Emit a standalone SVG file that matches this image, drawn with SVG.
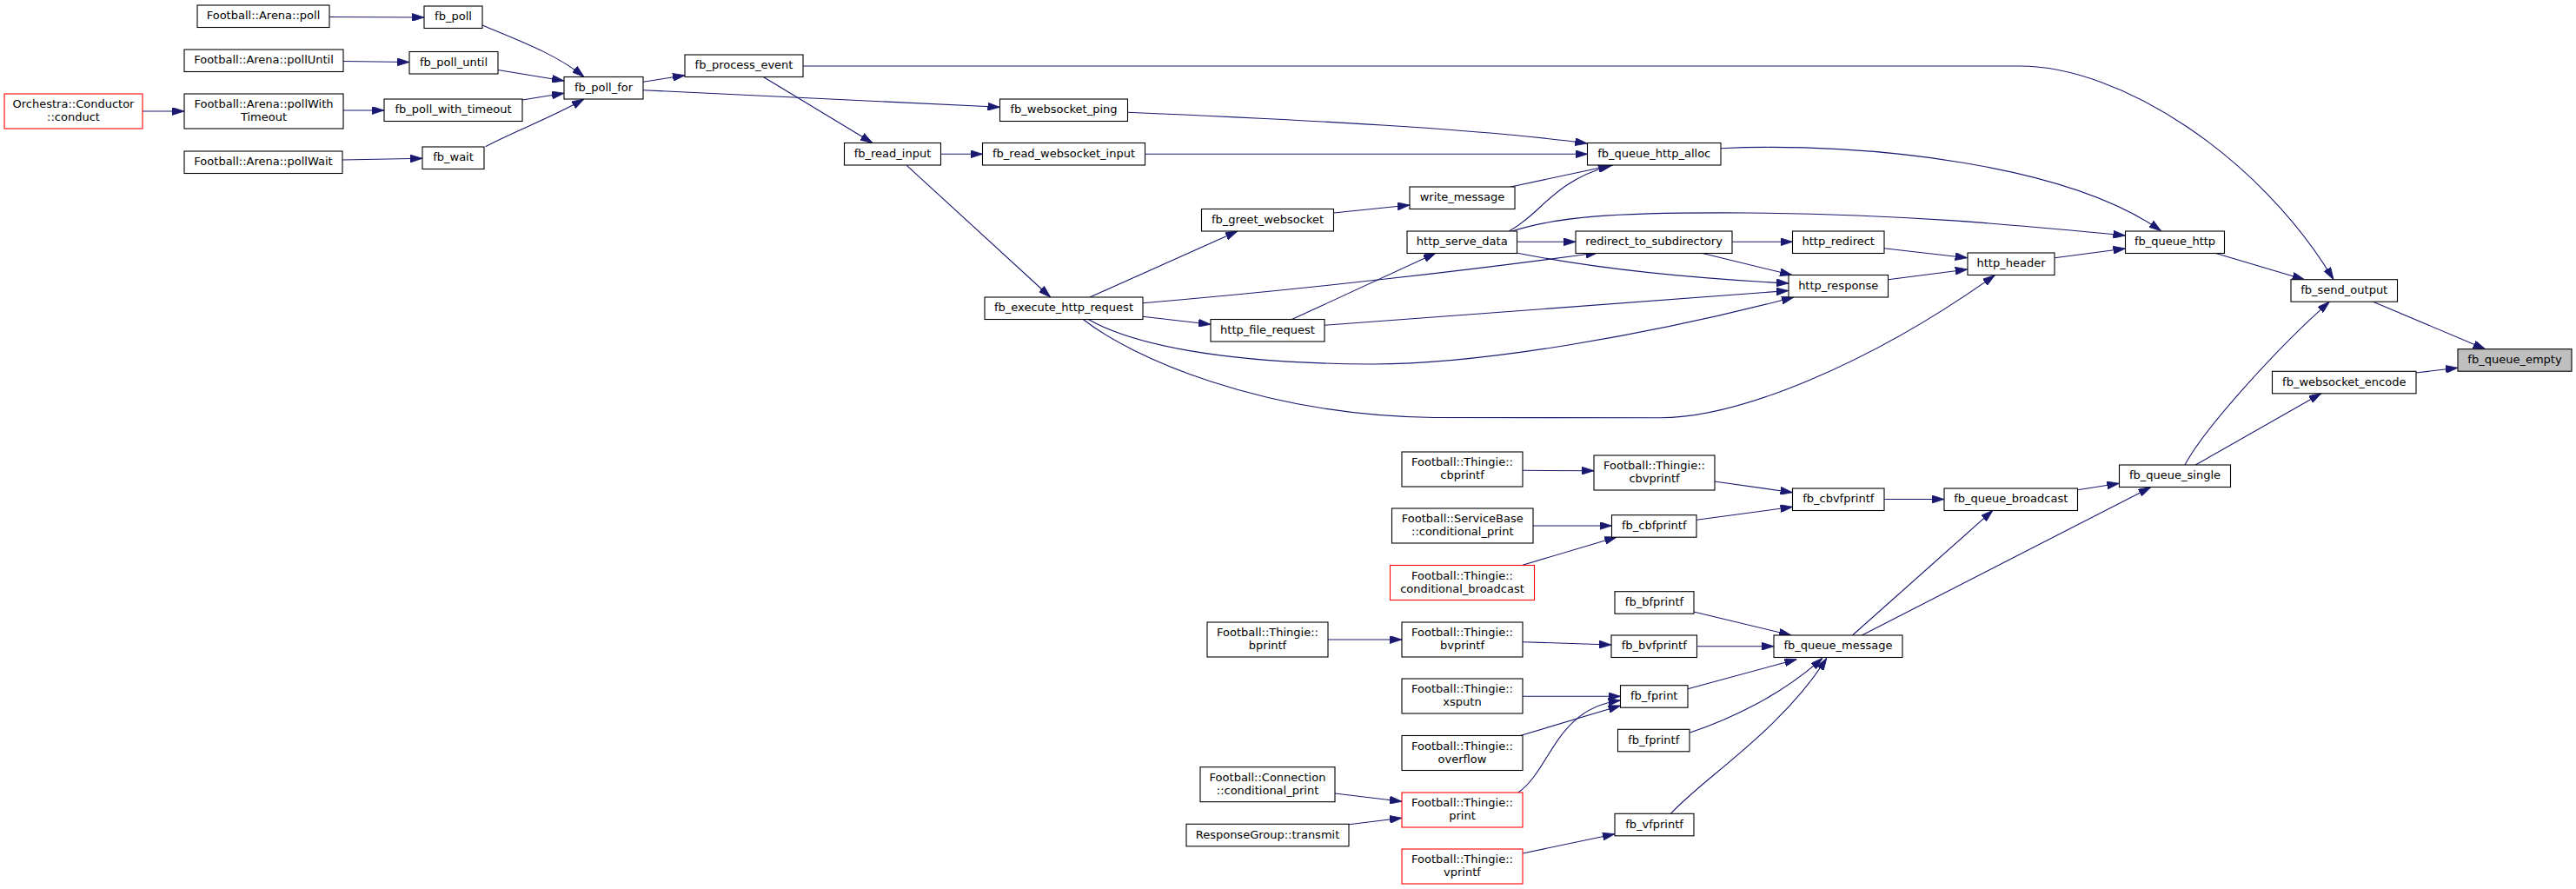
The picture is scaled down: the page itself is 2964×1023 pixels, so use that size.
<svg xmlns="http://www.w3.org/2000/svg" width="2964" height="1023" viewBox="0 0 2964 1023">
<style>
.node rect{fill:#ffffff;stroke:#000000;stroke-width:1.1}
.node.red rect{stroke:#ff0000}
.node.root rect{fill:#bfbfbf}
.node text{font-family:"DejaVu Sans",sans-serif;font-size:13px;fill:#000000;text-anchor:middle}
.edges path{fill:none;stroke:#191970;stroke-width:1.1;marker-end:url(#ah)}
</style>
<defs>
<marker id="ah" viewBox="0 0 14 9" refX="14" refY="4.5" markerWidth="14" markerHeight="9" markerUnits="userSpaceOnUse" orient="auto">
<path d="M0,0 L14,4.5 L0,9 z" fill="#191970" stroke="#191970" stroke-width="0.8"/>
</marker>
</defs>
<rect width="2964" height="1023" fill="#ffffff"/>
<g class="edges">
<path d="M379,19.5 L488,20"/>
<path d="M555,29 C595,46 640,62 672,88.5"/>
<path d="M395,70.5 L471,71.5"/>
<path d="M573,80.5 L649,93"/>
<path d="M164,128 L212,128"/>
<path d="M395,127 L442,127"/>
<path d="M601,115 L649,107.3"/>
<path d="M394,184 L486,182.3"/>
<path d="M558.6,168.7 C590,152 635,135 672,114"/>
<path d="M740,94.3 L788,86.7"/>
<path d="M740,103.7 L1150.5,123.3"/>
<path d="M924,76 L2324,76 C2440,76 2600,180 2685,321.7"/>
<path d="M878.7,88.7 L1004,164.5"/>
<path d="M1082.5,177.3 L1130.5,177.3"/>
<path d="M1043.3,190.3 L1208.7,342"/>
<path d="M1297.7,129.3 C1500,138 1700,148 1826.3,165"/>
<path d="M1317.5,177.3 L1826.5,177.3"/>
<path d="M1534.5,245 L1622,236"/>
<path d="M1738.3,215 L1855.5,190"/>
<path d="M1736.8,265.7 C1775,245 1785,210 1853,190.5"/>
<path d="M1740,266 C1790,250 1850,244 2010,245 C2200,246 2350,262 2445.5,271"/>
<path d="M1745.5,278.3 L1813,278.3"/>
<path d="M1745,291 C1800,302 1900,318 2058,326"/>
<path d="M1993.2,278.3 L2062.5,278.3"/>
<path d="M1958,291.3 L2062,316.5"/>
<path d="M1315,348.7 C1500,333 1700,310 1838.7,290.7"/>
<path d="M1254,342 L1424,266"/>
<path d="M1315,364.3 L1393,373.3"/>
<path d="M1487,367.3 L1652,291.3"/>
<path d="M1524,374.3 L2057.8,334.5"/>
<path d="M1251.8,367.3 C1300,395 1400,418 1575,419 C1700,420 1900,385 2064,342"/>
<path d="M1246,367.3 C1300,410 1450,478 1650,480.5 L1910,480.7 C2000,480.7 2150,420 2295.3,316.7"/>
<path d="M2167.8,285.7 L2263.7,296.7"/>
<path d="M2172.6,321.7 L2263.7,310"/>
<path d="M2364.2,296.7 L2445.5,286"/>
<path d="M1979.8,170.7 C2150,163 2380,190 2486.6,265.7"/>
<path d="M2548.8,291.3 L2651.6,321.7"/>
<path d="M2730.6,347.3 L2859.7,401.7"/>
<path d="M2779.8,429 L2828,423.3"/>
<path d="M2514,535 C2535,495 2620,400 2680.4,347.3"/>
<path d="M2526.3,535 L2670.8,452.7"/>
<path d="M2390.5,563.7 L2438.3,556.3"/>
<path d="M2167.8,574.5 L2237,574.5"/>
<path d="M2131.5,731 L2293,587.3"/>
<path d="M2142.4,731 L2474.7,560.7"/>
<path d="M1752.2,541.3 L1834,541.7"/>
<path d="M1972.7,554 L2062.6,566.7"/>
<path d="M1952.1,598.3 L2062.6,583.3"/>
<path d="M1764.1,605 L1854.5,605"/>
<path d="M1751.2,650.5 L1860.3,618"/>
<path d="M1528,736 L1613,736"/>
<path d="M1752.2,738.7 L1854,742"/>
<path d="M1952.6,743.7 L2041,743.7"/>
<path d="M1948.7,704 L2061,731"/>
<path d="M1942,792.7 L2067.4,758.7"/>
<path d="M1944.5,843 C1990,828 2050,800 2097,757.3"/>
<path d="M1922.4,936.3 C1960,895 2050,840 2101.8,757.3"/>
<path d="M1752.2,801.3 L1864.6,801.3"/>
<path d="M1749.3,846.5 L1864.6,812"/>
<path d="M1746.9,912 C1785,885 1790,815 1864.6,806"/>
<path d="M1536,913 L1613,922.3"/>
<path d="M1552,948.7 L1613,941.3"/>
<path d="M1752.2,982 L1858,959.7"/>
</g>
<g id="n_arena_poll" class="node"><rect x="227" y="6" width="152" height="25.5"/><text x="303" y="22.25">Football::Arena::poll</text></g>
<g id="n_fb_poll" class="node"><rect x="488" y="7" width="67" height="25.5"/><text x="521.5" y="23.25">fb_poll</text></g>
<g id="n_arena_pollUntil" class="node"><rect x="212" y="57" width="183" height="25.5"/><text x="303.5" y="73.25">Football::Arena::pollUntil</text></g>
<g id="n_fb_poll_until" class="node"><rect x="471" y="59.5" width="102" height="25.5"/><text x="522" y="75.75">fb_poll_until</text></g>
<g id="n_fb_poll_for" class="node"><rect x="649" y="88.5" width="91" height="25.5"/><text x="694.5" y="104.75">fb_poll_for</text></g>
<g id="n_conductor_conduct" class="node red"><rect x="5" y="108" width="159" height="40"/><text x="84.5" y="124">Orchestra::Conductor</text><text x="84.5" y="139">::conduct</text></g>
<g id="n_arena_pollWithTimeout" class="node"><rect x="212" y="108" width="183" height="40"/><text x="303.5" y="124">Football::Arena::pollWith</text><text x="303.5" y="139">Timeout</text></g>
<g id="n_fb_poll_with_timeout" class="node"><rect x="442" y="114" width="159" height="25.5"/><text x="521.5" y="130.25">fb_poll_with_timeout</text></g>
<g id="n_arena_pollWait" class="node"><rect x="212" y="174" width="182" height="25.5"/><text x="303" y="190.25">Football::Arena::pollWait</text></g>
<g id="n_fb_wait" class="node"><rect x="486" y="169" width="71" height="25.5"/><text x="521.5" y="185.25">fb_wait</text></g>
<g id="n_fb_process_event" class="node"><rect x="788" y="63" width="136" height="25.5"/><text x="856" y="79.25">fb_process_event</text></g>
<g id="n_fb_websocket_ping" class="node"><rect x="1150.5" y="114" width="147" height="25.5"/><text x="1224" y="130.25">fb_websocket_ping</text></g>
<g id="n_fb_read_input" class="node"><rect x="971.5" y="164.5" width="111" height="25.5"/><text x="1027" y="180.75">fb_read_input</text></g>
<g id="n_fb_read_websocket_input" class="node"><rect x="1130.5" y="164.5" width="187" height="25.5"/><text x="1224" y="180.75">fb_read_websocket_input</text></g>
<g id="n_fb_greet_websocket" class="node"><rect x="1382.5" y="240.5" width="152" height="25.5"/><text x="1458.5" y="256.75">fb_greet_websocket</text></g>
<g id="n_fb_execute_http_request" class="node"><rect x="1133" y="342" width="182" height="25.5"/><text x="1224" y="358.25">fb_execute_http_request</text></g>
<g id="n_http_file_request" class="node"><rect x="1393" y="367.5" width="131" height="25.5"/><text x="1458.5" y="383.75">http_file_request</text></g>
<g id="n_write_message" class="node"><rect x="1622" y="215" width="121" height="25.5"/><text x="1682.5" y="231.25">write_message</text></g>
<g id="n_http_serve_data" class="node"><rect x="1619" y="266" width="126.5" height="25.5"/><text x="1682.25" y="282.25">http_serve_data</text></g>
<g id="n_fb_queue_http_alloc" class="node"><rect x="1826.5" y="164.5" width="153.5" height="25.5"/><text x="1903.25" y="180.75">fb_queue_http_alloc</text></g>
<g id="n_redirect_to_subdirectory" class="node"><rect x="1813" y="266" width="180" height="25.5"/><text x="1903" y="282.25">redirect_to_subdirectory</text></g>
<g id="n_http_redirect" class="node"><rect x="2062.5" y="266" width="105.5" height="25.5"/><text x="2115.25" y="282.25">http_redirect</text></g>
<g id="n_http_response" class="node"><rect x="2058" y="316.5" width="114.5" height="25.5"/><text x="2115.25" y="332.75">http_response</text></g>
<g id="n_http_header" class="node"><rect x="2264" y="291" width="100" height="25.5"/><text x="2314" y="307.25">http_header</text></g>
<g id="n_fb_queue_http" class="node"><rect x="2445.5" y="266" width="114" height="25.5"/><text x="2502.5" y="282.25">fb_queue_http</text></g>
<g id="n_fb_send_output" class="node"><rect x="2636" y="321.7" width="122.5" height="25.5"/><text x="2697.25" y="337.95">fb_send_output</text></g>
<g id="n_fb_queue_empty" class="node root"><rect x="2828" y="401.7" width="131" height="25.5"/><text x="2893.5" y="417.95">fb_queue_empty</text></g>
<g id="n_fb_websocket_encode" class="node"><rect x="2614.5" y="427.3" width="165.5" height="25.5"/><text x="2697.25" y="443.55">fb_websocket_encode</text></g>
<g id="n_fb_queue_single" class="node"><rect x="2438.5" y="535" width="128" height="25.5"/><text x="2502.5" y="551.25">fb_queue_single</text></g>
<g id="n_fb_queue_broadcast" class="node"><rect x="2237" y="562" width="153.5" height="25.5"/><text x="2313.75" y="578.25">fb_queue_broadcast</text></g>
<g id="n_fb_cbvfprintf" class="node"><rect x="2062.5" y="562" width="105.5" height="25.5"/><text x="2115.25" y="578.25">fb_cbvfprintf</text></g>
<g id="n_thingie_cbprintf" class="node"><rect x="1613" y="520" width="139" height="40"/><text x="1682.5" y="536">Football::Thingie::</text><text x="1682.5" y="551">cbprintf</text></g>
<g id="n_thingie_cbvprintf" class="node"><rect x="1834" y="524" width="139" height="40"/><text x="1903.5" y="540">Football::Thingie::</text><text x="1903.5" y="555">cbvprintf</text></g>
<g id="n_servicebase_conditional_print" class="node"><rect x="1601.5" y="585" width="162.5" height="40"/><text x="1682.75" y="601">Football::ServiceBase</text><text x="1682.75" y="616">::conditional_print</text></g>
<g id="n_fb_cbfprintf" class="node"><rect x="1854.5" y="592.7" width="97.5" height="25.5"/><text x="1903.25" y="608.95">fb_cbfprintf</text></g>
<g id="n_thingie_conditional_broadcast" class="node red"><rect x="1599.5" y="650.5" width="166" height="40"/><text x="1682.5" y="666.5">Football::Thingie::</text><text x="1682.5" y="681.5">conditional_broadcast</text></g>
<g id="n_fb_bfprintf" class="node"><rect x="1858" y="680.7" width="91" height="25.5"/><text x="1903.5" y="696.95">fb_bfprintf</text></g>
<g id="n_thingie_bprintf" class="node"><rect x="1389" y="716" width="139" height="40"/><text x="1458.5" y="732">Football::Thingie::</text><text x="1458.5" y="747">bprintf</text></g>
<g id="n_thingie_bvprintf" class="node"><rect x="1613" y="716" width="139" height="40"/><text x="1682.5" y="732">Football::Thingie::</text><text x="1682.5" y="747">bvprintf</text></g>
<g id="n_fb_bvfprintf" class="node"><rect x="1854" y="731" width="98.5" height="25.5"/><text x="1903.25" y="747.25">fb_bvfprintf</text></g>
<g id="n_fb_queue_message" class="node"><rect x="2041" y="731" width="148" height="25.5"/><text x="2115" y="747.25">fb_queue_message</text></g>
<g id="n_thingie_xsputn" class="node"><rect x="1613" y="781" width="139" height="40"/><text x="1682.5" y="797">Football::Thingie::</text><text x="1682.5" y="812">xsputn</text></g>
<g id="n_fb_fprint" class="node"><rect x="1864.5" y="788.7" width="77.5" height="25.5"/><text x="1903.25" y="804.95">fb_fprint</text></g>
<g id="n_fb_fprintf" class="node"><rect x="1861.5" y="839.3" width="82.5" height="25.5"/><text x="1902.75" y="855.55">fb_fprintf</text></g>
<g id="n_thingie_overflow" class="node"><rect x="1613" y="846.5" width="139" height="40"/><text x="1682.5" y="862.5">Football::Thingie::</text><text x="1682.5" y="877.5">overflow</text></g>
<g id="n_connection_conditional_print" class="node"><rect x="1381" y="882.7" width="155" height="40"/><text x="1458.5" y="898.7">Football::Connection</text><text x="1458.5" y="913.7">::conditional_print</text></g>
<g id="n_thingie_print" class="node red"><rect x="1613" y="912" width="139" height="40"/><text x="1682.5" y="928">Football::Thingie::</text><text x="1682.5" y="943">print</text></g>
<g id="n_responsegroup_transmit" class="node"><rect x="1365" y="948.3" width="187" height="25.5"/><text x="1458.5" y="964.55">ResponseGroup::transmit</text></g>
<g id="n_fb_vfprintf" class="node"><rect x="1858" y="936.3" width="91" height="25.5"/><text x="1903.5" y="952.55">fb_vfprintf</text></g>
<g id="n_thingie_vprintf" class="node red"><rect x="1613" y="977" width="139" height="40"/><text x="1682.5" y="993">Football::Thingie::</text><text x="1682.5" y="1008">vprintf</text></g>
</svg>
